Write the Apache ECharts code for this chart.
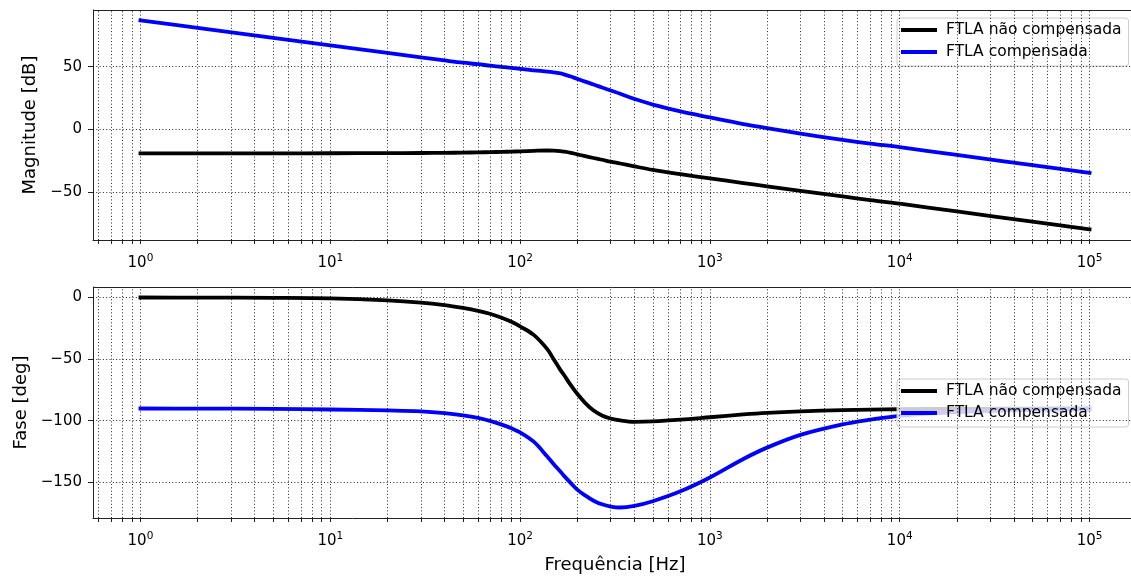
<!DOCTYPE html>
<html>
<head>
<meta charset="utf-8">
<title>Diagrama de Bode - FTLA</title>
<script src="https://cdn.jsdelivr.net/npm/echarts@6/dist/echarts.min.js"></script>
<style>
  html, body { margin: 0; padding: 0; background: #ffffff; }
  #chart { width: 1131px; height: 578px; }
</style>
</head>
<body>
<div id="chart"></div>
<script>
// Frequency samples [Hz]
const freq = [1, 2, 5, 10, 20, 30, 40, 50, 60, 70, 80, 90, 100, 118, 139, 150, 163, 170, 185, 200,
  220, 244, 270, 300, 337, 400, 500, 700, 1000, 1500, 2000, 3000, 5000, 7000, 10000, 20000, 50000, 100000];

// Magnitude [dB]
const magNaoComp = [-19.2, -19.2, -19.2, -19.1, -19.0, -18.9, -18.8, -18.6, -18.4, -18.2, -18.0, -17.8, -17.6, -17.2, -16.9, -17.0, -17.4, -17.8, -18.8, -20.0,
  -21.4, -22.9, -24.3, -25.8, -27.3, -29.6, -32.4, -35.8, -39.2, -42.9, -45.5, -49.1, -53.6, -56.6, -59.4, -65.6, -73.7, -79.9];
const magComp = [87.0, 81.0, 73.0, 67.0, 61.0, 57.4, 55.0, 53.2, 52.0, 50.8, 49.9, 49.1, 48.2, 47.1, 46.1, 45.5, 44.6, 43.9, 42.2, 40.3,
  38.1, 35.8, 33.4, 31.0, 28.4, 24.3, 19.7, 14.3, 9.5, 4.2, 1.0, -3.4, -8.4, -11.4, -14.2, -20.5, -28.6, -34.8];

// Phase [deg]
const faseNaoComp = [-0.2, -0.3, -0.5, -0.9, -2.5, -4.3, -6.4, -8.7, -11.0, -13.6, -16.6, -19.9, -23.6, -30.5, -42.0, -50.0, -58.8, -62.8, -71.2, -78.2,
  -85.5, -91.8, -95.7, -98.2, -99.8, -100.9, -100.6, -99.2, -97.2, -94.9, -93.6, -92.4, -91.4, -91.0, -90.7, -90.35, -90.14, -90.07];
const faseComp = [-90.1, -90.2, -90.4, -90.9, -91.7, -92.4, -93.8, -95.6, -97.7, -100.3, -103.2, -106.2, -109.4, -117.0, -129.0, -135.0, -141.2, -144.5, -150.5, -155.8,
  -160.5, -164.8, -167.7, -169.5, -170.3, -169.0, -165.2, -157.2, -146.0, -131.0, -121.8, -111.5, -103.0, -99.2, -96.0, -93.0, -91.3, -90.7];

const seriesNames = ['FTLA não compensada', 'FTLA compensada'];
const magTicks = [-50, 0, 50];
const faseTicks = [-150, -100, -50, 0];
const decadeTicks = [1, 10, 100, 1000, 10000, 100000];

const FONT = 'DejaVu Sans';
const SPINE = '#222222';
const xMin = Math.pow(10, -0.25);
const xMax = Math.pow(10, 5.25);
const magRange = [-88.4, 95.3];
const faseRange = [-178.8, 8.3];

// log-axis grid positions: decades plus 2..9 within each decade
const gridX = [];
[0.1, 1, 10, 100, 1000, 10000].forEach(function (d) {
  for (let m = 1; m <= 9; m++) {
    const v = m * d;
    if (v >= xMin && v <= xMax) gridX.push(v);
  }
});
gridX.push(100000);

const minusFmt = function (v) { return String(v).replace('-', '\u2212'); };

function xAxisCfg(gridIndex, name) {
  return {
    type: 'log', logBase: 10, gridIndex: gridIndex, min: xMin, max: xMax,
    position: 'bottom',
    axisLine: { show: true, onZero: false, lineStyle: { color: SPINE, width: 1 } },
    splitLine: { show: false },
    minorTick: { show: false },
    axisTick: { show: true, inside: false, length: 4, customValues: gridX, lineStyle: { color: SPINE, width: 1 } },
    axisLabel: {
      customValues: decadeTicks, margin: 13,
      formatter: function (v) { return '{b|10}{s|' + Math.round(Math.log10(v)) + '}'; },
      rich: {
        b: { fontFamily: FONT, fontSize: 15, lineHeight: 20, color: '#000' },
        s: { fontFamily: FONT, fontSize: 10.5, lineHeight: 6, verticalAlign: 'top', color: '#000' }
      }
    },
    name: name, nameLocation: 'middle', nameGap: 38,
    nameTextStyle: { fontFamily: FONT, fontSize: 18, color: '#000' }
  };
}

function yAxisCfg(gridIndex, range, ticks, name, gap) {
  return {
    type: 'value', gridIndex: gridIndex, min: range[0], max: range[1],
    position: 'left',
    axisLine: { show: true, onZero: false, lineStyle: { color: SPINE, width: 1 } },
    splitLine: { show: false },
    axisTick: { show: true, length: 5, customValues: ticks, lineStyle: { color: SPINE, width: 1 } },
    axisLabel: { customValues: ticks, margin: 11, fontFamily: FONT, fontSize: 15, color: '#000', formatter: minusFmt },
    name: name, nameLocation: 'middle', nameGap: gap,
    nameTextStyle: { fontFamily: FONT, fontSize: 18, color: '#000' }
  };
}

// dotted major/minor grid, plus the solid top spine of the panel
function gridLines(xi, yi, hTicks, top) {
  const dotted = { color: '#000', width: 1, type: [1, 2.3], opacity: 0.85 };
  return {
    type: 'line', xAxisIndex: xi, yAxisIndex: yi, data: [], silent: true, z: 1,
    markLine: {
      silent: true, symbol: ['none', 'none'], animation: false,
      label: { show: false },
      emphasis: { disabled: true },
      lineStyle: dotted,
      data: gridX.map(function (v) { return { xAxis: v }; })
        .concat(hTicks.map(function (v) { return { yAxis: v }; }))
        .concat([{ yAxis: top, lineStyle: { color: SPINE, width: 1, type: 'solid', opacity: 1 } }])
    }
  };
}

function curve(name, xi, yi, values, color) {
  return {
    name: name, type: 'line', xAxisIndex: xi, yAxisIndex: yi, z: 2,
    data: freq.map(function (f, i) { return [f, values[i]]; }),
    symbol: 'none', showSymbol: false, smooth: 0.35,
    color: color,
    itemStyle: { color: color },
    lineStyle: { color: color, width: 3.8, cap: 'square', join: 'round' },
    emphasis: { disabled: true }
  };
}

function legendCfg(top) {
  return {
    data: seriesNames, orient: 'vertical', left: 897, top: top,
    icon: 'rect', itemWidth: 36, itemHeight: 4, itemGap: 4,
    padding: [3, 7, 5, 4],
    backgroundColor: 'rgba(255,255,255,0.8)', borderColor: '#cccccc', borderWidth: 1, borderRadius: 3,
    selectedMode: false,
    textStyle: { fontFamily: FONT, fontSize: 15.5, color: '#000', lineHeight: 18, padding: [0, 0, 0, 4] }
  };
}

const chart = echarts.init(document.getElementById('chart'), null, { renderer: 'canvas' });
chart.setOption({
  animation: false,
  backgroundColor: '#ffffff',
  textStyle: { fontFamily: FONT },
  grid: [
    { left: 93, top: 10, width: 1044, height: 230, outerBoundsMode: 'none', containLabel: false, show: false },
    { left: 93, top: 287, width: 1044, height: 231, outerBoundsMode: 'none', containLabel: false, show: false }
  ],
  legend: [legendCfg(18), legendCfg(379)],
  xAxis: [xAxisCfg(0, ''), xAxisCfg(1, 'Frequência [Hz]')],
  yAxis: [
    yAxisCfg(0, magRange, magTicks, 'Magnitude [dB]', 53),
    yAxisCfg(1, faseRange, faseTicks, 'Fase [deg]', 63)
  ],
  series: [
    gridLines(0, 0, magTicks, magRange[1]),
    gridLines(1, 1, faseTicks, faseRange[1]),
    curve(seriesNames[0], 0, 0, magNaoComp, '#000000'),
    curve(seriesNames[1], 0, 0, magComp, '#0000ff'),
    curve(seriesNames[0], 1, 1, faseNaoComp, '#000000'),
    curve(seriesNames[1], 1, 1, faseComp, '#0000ff')
  ]
});
</script>
</body>
</html>
